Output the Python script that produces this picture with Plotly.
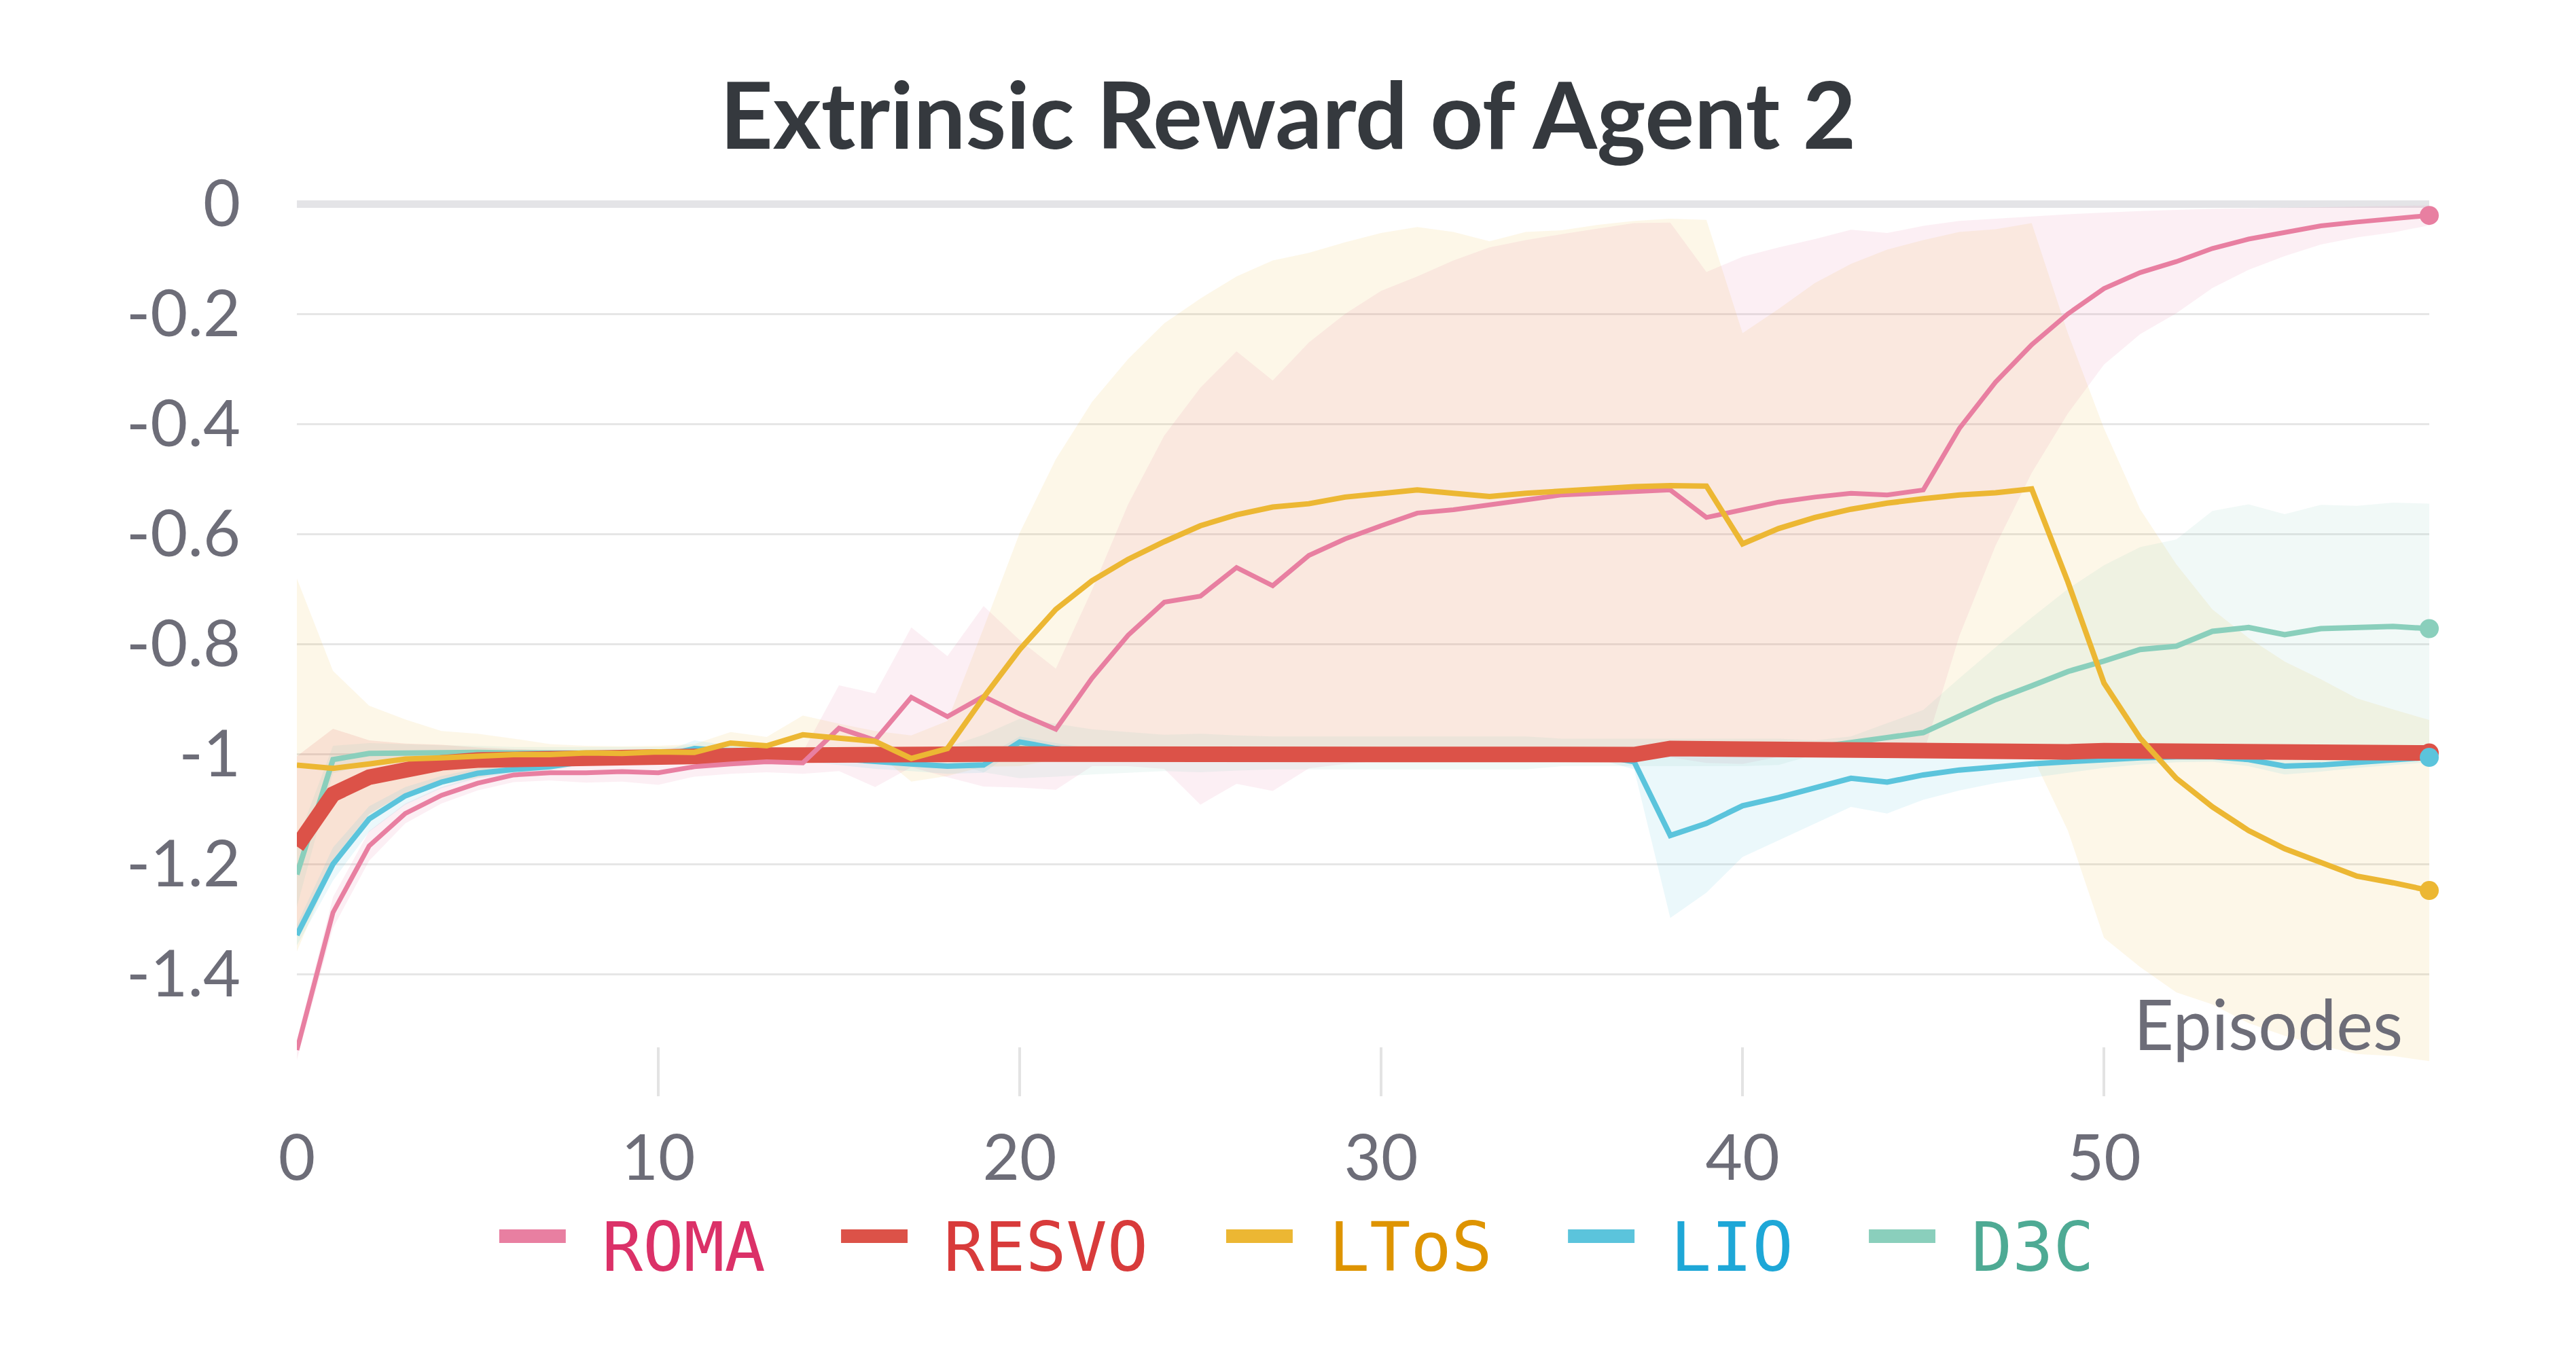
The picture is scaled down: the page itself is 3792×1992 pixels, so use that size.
import plotly.graph_objects as go

# episodes on the x axis
episodes = list(range(60))

roma_mean = [-1.538, -1.288, -1.167, -1.108, -1.075, -1.053, -1.038, -1.034, -1.034, -1.032,
             -1.034, -1.023, -1.018, -1.014, -1.016, -0.953, -0.975, -0.897, -0.932, -0.895,
             -0.927, -0.955, -0.862, -0.784, -0.724, -0.713, -0.661, -0.694, -0.639, -0.609,
             -0.585, -0.562, -0.556, -0.546, -0.538, -0.529, -0.526, -0.522, -0.520, -0.570,
             -0.557, -0.542, -0.533, -0.526, -0.529, -0.520, -0.408, -0.324, -0.256, -0.200,
             -0.154, -0.125, -0.105, -0.081, -0.064, -0.051, -0.040, -0.033, -0.028, -0.021]
roma_upper = [-1.520, -1.260, -1.140, -1.090, -1.060, -1.040, -1.025, -1.020, -1.016, -1.014,
              -1.012, -1.005, -1.000, -0.995, -0.996, -0.875, -0.890, -0.770, -0.822, -0.731,
              -0.793, -0.845, -0.702, -0.546, -0.421, -0.334, -0.268, -0.321, -0.252, -0.200,
              -0.158, -0.132, -0.103, -0.079, -0.066, -0.055, -0.045, -0.035, -0.034, -0.124,
              -0.096, -0.079, -0.064, -0.047, -0.053, -0.040, -0.031, -0.027, -0.023, -0.019,
              -0.016, -0.013, -0.011, -0.009, -0.008, -0.007, -0.006, -0.005, -0.004, -0.003]
roma_lower = [-1.556, -1.316, -1.194, -1.126, -1.090, -1.066, -1.051, -1.048, -1.052, -1.050,
              -1.056, -1.041, -1.036, -1.033, -1.036, -1.031, -1.060, -1.024, -1.042, -1.059,
              -1.061, -1.065, -1.022, -1.022, -1.027, -1.092, -1.054, -1.067, -1.026, -1.018,
              -1.012, -0.992, -1.009, -1.013, -1.010, -1.003, -1.007, -1.009, -1.006, -1.016,
              -1.018, -1.005, -1.002, -1.005, -1.005, -1.000, -0.785, -0.621, -0.489, -0.381,
              -0.292, -0.237, -0.199, -0.153, -0.120, -0.095, -0.074, -0.061, -0.052, -0.039]

resvo_mean = [-1.168, -1.073, -1.042, -1.026, -1.016, -1.011, -1.009, -1.008, -1.005, -1.004,
              -1.003, -1.003, -1.002, -1.002, -1.002, -1.003, -1.002, -1.001, -1.000, -1.000,
              -1.000, -1.000, -1.000, -1.000, -1.000, -1.000, -1.000, -0.999, -0.999, -0.999,
              -0.999, -0.999, -0.999, -0.998, -0.998, -0.999, -0.999, -1.001, -0.990, -0.991,
              -0.992, -0.993, -0.994, -0.995, -0.995, -0.996, -0.996, -0.996, -0.996, -0.996,
              -0.994, -0.995, -0.996, -0.997, -0.997, -0.997, -0.998, -0.998, -0.998, -0.998]
resvo_upper = [-1.004, -0.954, -0.975, -0.981, -0.983, -0.988, -0.991, -0.993, -0.995, -0.996,
               -0.996, -0.996, -0.995, -0.995, -0.995, -0.996, -0.995, -0.994, -0.993, -0.993,
               -0.993, -0.993, -0.993, -0.993, -0.993, -0.993, -0.993, -0.992, -0.992, -0.992,
               -0.992, -0.992, -0.992, -0.991, -0.991, -0.992, -0.992, -0.993, -0.982, -0.983,
               -0.984, -0.985, -0.986, -0.987, -0.987, -0.988, -0.988, -0.988, -0.988, -0.988,
               -0.986, -0.987, -0.988, -0.989, -0.989, -0.989, -0.990, -0.990, -0.990, -0.990]
resvo_lower = [-1.332, -1.192, -1.109, -1.071, -1.049, -1.034, -1.027, -1.023, -1.015, -1.012,
               -1.010, -1.010, -1.009, -1.009, -1.009, -1.010, -1.009, -1.008, -1.007, -1.007,
               -1.007, -1.007, -1.007, -1.007, -1.007, -1.007, -1.007, -1.006, -1.006, -1.006,
               -1.006, -1.006, -1.006, -1.005, -1.005, -1.006, -1.006, -1.009, -0.998, -0.999,
               -1.000, -1.001, -1.002, -1.003, -1.003, -1.004, -1.004, -1.004, -1.004, -1.004,
               -1.002, -1.003, -1.004, -1.005, -1.005, -1.005, -1.006, -1.006, -1.006, -1.006]

ltos_mean = [-1.020, -1.026, -1.018, -1.009, -1.007, -1.003, -1.001, -1.001, -0.998, -0.999,
             -0.996, -0.997, -0.980, -0.985, -0.965, -0.971, -0.977, -1.008, -0.990, -0.897,
             -0.810, -0.737, -0.685, -0.646, -0.614, -0.585, -0.565, -0.551, -0.545, -0.533,
             -0.526, -0.520, -0.526, -0.532, -0.526, -0.523, -0.518, -0.514, -0.512, -0.513,
             -0.618, -0.590, -0.570, -0.555, -0.544, -0.536, -0.529, -0.525, -0.518, -0.687,
             -0.871, -0.971, -1.044, -1.096, -1.139, -1.172, -1.197, -1.222, -1.234, -1.248]
ltos_upper = [-0.681, -0.849, -0.912, -0.937, -0.958, -0.963, -0.972, -0.982, -0.985, -0.986,
              -0.985, -0.982, -0.960, -0.969, -0.930, -0.945, -0.958, -0.966, -0.940, -0.771,
              -0.598, -0.464, -0.360, -0.282, -0.217, -0.172, -0.132, -0.103, -0.089, -0.070,
              -0.053, -0.042, -0.051, -0.068, -0.051, -0.048, -0.038, -0.031, -0.027, -0.029,
              -0.235, -0.191, -0.144, -0.109, -0.083, -0.066, -0.051, -0.046, -0.035, -0.235,
              -0.408, -0.555, -0.655, -0.737, -0.789, -0.832, -0.864, -0.899, -0.919, -0.938]
ltos_lower = [-1.359, -1.203, -1.124, -1.081, -1.056, -1.043, -1.030, -1.020, -1.011, -1.012,
              -1.007, -1.012, -1.000, -1.001, -1.000, -0.997, -0.996, -1.050, -1.040, -1.023,
              -1.022, -1.010, -1.010, -1.010, -1.011, -0.998, -0.998, -0.999, -1.001, -0.996,
              -0.999, -0.998, -1.001, -0.996, -1.001, -0.998, -0.998, -0.997, -0.997, -0.997,
              -1.001, -0.989, -0.996, -1.001, -1.005, -1.006, -1.007, -1.004, -1.001, -1.139,
              -1.334, -1.387, -1.433, -1.455, -1.489, -1.512, -1.530, -1.545, -1.549, -1.558]

lio_mean = [-1.329, -1.200, -1.118, -1.076, -1.051, -1.035, -1.028, -1.023, -1.013, -1.008,
            -1.005, -0.990, -0.995, -1.000, -1.005, -1.010, -1.015, -1.018, -1.022, -1.020,
            -0.978, -0.990, -0.998, -1.003, -1.001, -1.002, -1.004, -1.002, -1.001, -1.003,
            -1.002, -1.001, -1.002, -1.004, -1.003, -1.002, -1.002, -1.014, -1.148, -1.126,
            -1.094, -1.079, -1.061, -1.044, -1.051, -1.038, -1.029, -1.023, -1.018, -1.014,
            -1.010, -1.007, -1.005, -1.005, -1.010, -1.022, -1.020, -1.015, -1.010, -1.006]
lio_upper = [-1.310, -1.170, -1.095, -1.060, -1.040, -1.026, -1.020, -1.016, -1.007, -1.003,
             -1.000, -0.975, -0.985, -0.993, -0.997, -1.000, -1.003, -1.005, -1.008, -1.006,
             -0.968, -0.980, -0.990, -0.996, -0.994, -0.995, -0.997, -0.995, -0.994, -0.996,
             -0.995, -0.994, -0.995, -0.997, -0.996, -0.995, -0.995, -1.000, -0.998, -1.000,
             -1.001, -1.001, -0.996, -0.992, -0.994, -0.993, -0.992, -0.993, -0.993, -0.994,
             -0.995, -0.995, -0.995, -0.996, -0.998, -1.007, -1.008, -1.005, -1.000, -0.997]
lio_lower = [-1.348, -1.230, -1.141, -1.092, -1.062, -1.044, -1.036, -1.030, -1.019, -1.013,
             -1.010, -1.005, -1.005, -1.007, -1.013, -1.020, -1.027, -1.031, -1.036, -1.034,
             -0.988, -1.000, -1.006, -1.010, -1.008, -1.009, -1.011, -1.009, -1.008, -1.010,
             -1.009, -1.008, -1.009, -1.011, -1.010, -1.009, -1.009, -1.028, -1.298, -1.252,
             -1.187, -1.157, -1.126, -1.096, -1.108, -1.083, -1.066, -1.053, -1.043, -1.034,
             -1.025, -1.019, -1.015, -1.014, -1.022, -1.037, -1.032, -1.025, -1.020, -1.015]

d3c_mean = [-1.219, -1.010, -0.999, -0.998, -0.998, -0.997, -0.998, -0.998, -0.998, -0.998,
            -0.998, -0.997, -0.997, -0.998, -0.998, -0.998, -0.999, -1.000, -1.000, -0.999,
            -0.990, -0.993, -0.996, -0.997, -0.998, -0.998, -0.998, -0.998, -0.998, -0.998,
            -0.998, -0.998, -0.998, -0.998, -0.998, -0.997, -0.997, -0.997, -0.997, -0.997,
            -0.997, -0.996, -0.988, -0.980, -0.970, -0.961, -0.932, -0.901, -0.876, -0.850,
            -0.831, -0.810, -0.804, -0.777, -0.770, -0.783, -0.772, -0.770, -0.768, -0.772]
d3c_upper = [-1.160, -0.985, -0.980, -0.982, -0.984, -0.985, -0.987, -0.987, -0.987, -0.987,
             -0.987, -0.986, -0.986, -0.987, -0.987, -0.987, -0.987, -0.987, -0.987, -0.965,
             -0.936, -0.945, -0.955, -0.960, -0.965, -0.963, -0.966, -0.968, -0.968, -0.968,
             -0.968, -0.968, -0.968, -0.968, -0.968, -0.972, -0.972, -0.972, -0.972, -0.972,
             -0.972, -0.972, -0.975, -0.968, -0.944, -0.920, -0.862, -0.806, -0.752, -0.700,
             -0.657, -0.624, -0.610, -0.558, -0.546, -0.564, -0.547, -0.549, -0.543, -0.545]
d3c_lower = [-1.278, -1.035, -1.018, -1.014, -1.012, -1.009, -1.009, -1.009, -1.009, -1.009,
             -1.009, -1.008, -1.008, -1.009, -1.009, -1.009, -1.011, -1.013, -1.013, -1.033,
             -1.044, -1.041, -1.037, -1.034, -1.031, -1.033, -1.030, -1.028, -1.028, -1.028,
             -1.028, -1.028, -1.028, -1.028, -1.028, -1.022, -1.022, -1.022, -1.022, -1.022,
             -1.022, -1.020, -1.001, -0.992, -0.996, -1.002, -1.002, -0.996, -1.000, -1.000,
             -1.005, -0.996, -0.998, -0.996, -0.994, -1.002, -0.997, -0.991, -0.993, -0.999]

x_ticks = [0, 10, 20, 30, 40, 50]
y_ticks = [0, -0.2, -0.4, -0.6, -0.8, -1, -1.2, -1.4]
y_labels = ["0", "-0.2", "-0.4", "-0.6", "-0.8", "-1", "-1.2", "-1.4"]

# name, mean, upper, lower, line colour, band colour, line width, legend text colour
series = {
    "ROMA": (roma_mean, roma_upper, roma_lower, "#e87fa1", "rgba(232,126,161,0.12)", 7, "#db3168"),
    "RESVO": (resvo_mean, resvo_upper, resvo_lower, "#dc5248", "rgba(218,76,72,0.12)", 23, "#d83b3b"),
    "LToS": (ltos_mean, ltos_upper, ltos_lower, "#ecb733", "rgba(237,183,50,0.11)", 8, "#de9400"),
    "LIO": (lio_mean, lio_upper, lio_lower, "#5bc4dc", "rgba(91,196,220,0.12)", 8, "#1ea7d7"),
    "D3C": (d3c_mean, d3c_upper, d3c_lower, "#8acfbc", "rgba(138,207,188,0.12)", 8, "#4eaa94"),
}

fig = go.Figure()

# shaded bands first
for name in ["LToS", "ROMA", "RESVO", "LIO", "D3C"]:
    mean, upper, lower, col, band, lw, tcol = series[name]
    fig.add_trace(go.Scatter(x=episodes, y=upper, mode="lines", line=dict(width=0),
                             hoverinfo="skip", showlegend=False))
    fig.add_trace(go.Scatter(x=episodes, y=lower, mode="lines", line=dict(width=0),
                             fill="tonexty", fillcolor=band, hoverinfo="skip", showlegend=False))

# mean lines (LIO / D3C sit under the thick RESVO line), then end dots
for name in ["LIO", "D3C", "RESVO", "ROMA", "LToS"]:
    mean, upper, lower, col, band, lw, tcol = series[name]
    fig.add_trace(go.Scatter(x=episodes, y=mean, mode="lines", name=name,
                             line=dict(color=col, width=lw), showlegend=False))
for name in ["RESVO", "D3C", "LIO", "ROMA", "LToS"]:
    mean, upper, lower, col, band, lw, tcol = series[name]
    fig.add_trace(go.Scatter(x=[episodes[-1]], y=[mean[-1]], mode="markers",
                             marker=dict(color=col, size=28), cliponaxis=False,
                             showlegend=False, hoverinfo="skip"))

# hand made legend (long rounded keys like the original)
legend_pos = {"ROMA": 0.0949, "RESVO": 0.2552, "LToS": 0.4358, "LIO": 0.5961, "D3C": 0.7372}
for name, x0 in legend_pos.items():
    mean, upper, lower, col, band, lw, tcol = series[name]
    fig.add_shape(type="line", xref="paper", yref="paper", x0=x0, x1=x0 + 0.0312,
                  y0=-0.1554, y1=-0.1554, line=dict(color=col, width=20))
    fig.add_annotation(text=name, xref="paper", yref="paper", x=x0 + 0.0478, y=-0.168,
                       xanchor="left", yanchor="middle", showarrow=False, borderpad=0,
                       font=dict(family="DejaVu Sans Mono", size=100, color=tcol))

fig.add_annotation(text="Episodes", xref="paper", yref="paper", x=0.988, y=0.081,
                   xanchor="right", yanchor="middle", showarrow=False, borderpad=0,
                   font=dict(family="Lato", size=102, color="#6d6d78"))

fig.update_layout(
    width=3792, height=1992,
    margin=dict(l=437, r=216, t=288, b=378),
    paper_bgcolor="white", plot_bgcolor="white",
    showlegend=False,
    title=dict(text="Extrinsic Reward of Agent 2", x=0.5, xref="container", xanchor="center",
               y=0.914, yref="container", yanchor="middle",
               font=dict(family="Lato", size=136, color="#35393e", weight=700)),
    font=dict(family="Lato", color="#6d6d78"),
)
fig.update_xaxes(range=[0, 59], tickvals=x_ticks, showgrid=False, zeroline=False,
                 showline=False, ticks="inside", ticklen=72, tickwidth=4,
                 tickcolor="#e3e3e3", ticklabelstandoff=28,
                 tickfont=dict(family="Lato", size=94, color="#6d6d78"), automargin=False)
fig.update_yaxes(range=[-1.622, 0.015], tickvals=y_ticks, ticktext=y_labels,
                 showgrid=True, gridcolor="#e6e6e6", gridwidth=3,
                 zeroline=True, zerolinecolor="#e4e4e7", zerolinewidth=11,
                 showline=False, ticks="", ticklabelstandoff=82,
                 tickfont=dict(family="Lato", size=95, color="#6d6d78"), automargin=False)

fig.write_html("out.html", config={"displayModeBar": False},
               post_script="document.body.style.margin='0';")
